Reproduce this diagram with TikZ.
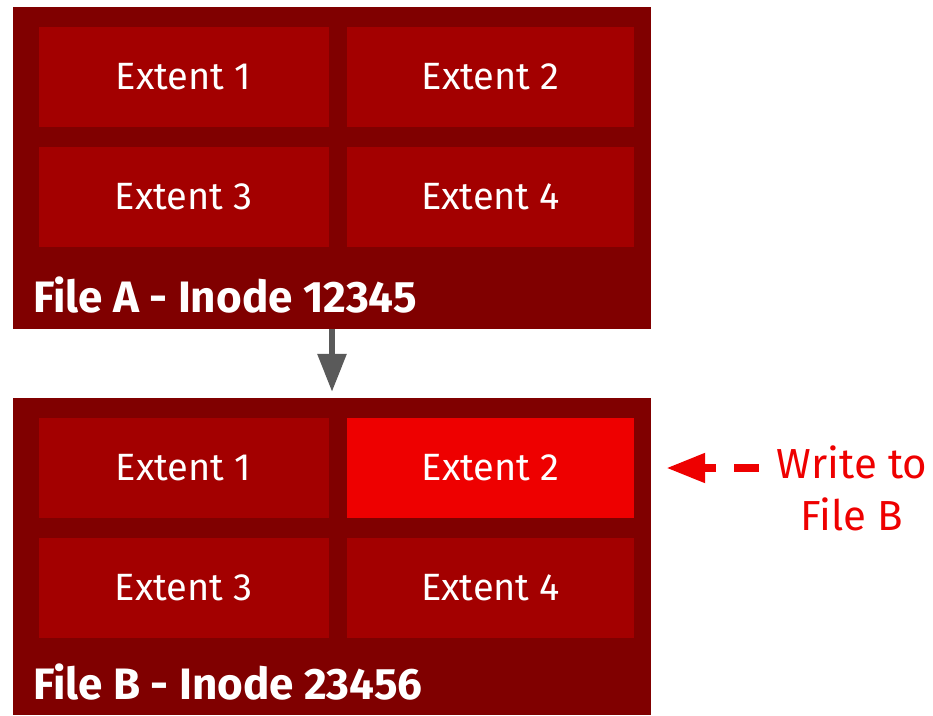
\documentclass[tikz,border=0pt]{standalone}
\usepackage{fontspec}
\setmainfont{Fira Sans}
\usetikzlibrary{arrows.meta}
\definecolor{boxdark}{HTML}{800000}
\definecolor{extred}{HTML}{A30000}
\definecolor{hotred}{HTML}{EE0000}
\definecolor{arrowgray}{HTML}{5A5A5A}
\tikzset{>=latex}
\tikzset{
  filebox/.style={fill=boxdark, inner sep=0pt, minimum width=638pt},
  extent/.style={fill=extred, text=white, inner sep=0pt, minimum width=290pt, minimum height=100pt, font=\fontsize{38}{44}\selectfont},
  filelabel/.style={text=white, anchor=west, inner sep=0pt, font=\fontsize{44}{52}\selectfont\bfseries},
}

\begin{document}
\begin{tikzpicture}[x=1pt,y=-1pt]
  \useasboundingbox (0,0) rectangle (933,715);
  % file A
  \node[filebox, minimum height=322pt] (fileA) at (332,168) {};
  \node[extent] (a1) at (183.5,77) {Extent 1};
  \node[extent, minimum width=287pt] (a2) at (490.5,77) {Extent 2};
  \node[extent] (a3) at (183.5,197) {Extent 3};
  \node[extent, minimum width=287pt] (a4) at (490.5,197) {Extent 4};
  \node[filelabel] (labA) at (33,295) {File A - Inode 12345};
  % file B
  \node[filebox, minimum height=317pt] (fileB) at (332,556.5) {};
  \node[extent] (b1) at (183.5,468) {Extent 1};
  \node[extent, minimum width=287pt, fill=hotred] (b2) at (490.5,468) {Extent 2};
  \node[extent] (b3) at (183.5,588) {Extent 3};
  \node[extent, minimum width=287pt] (b4) at (490.5,588) {Extent 4};
  \node[filelabel] (labB) at (33,682) {File B - Inode 23456};
  % copy
  \draw[arrowgray, line width=6pt, -{Triangle[length=38pt,width=28pt]}, shorten >=6pt] (fileA) -- (fileB);
  % write
  \node[text=hotred, align=center, inner sep=0pt, font=\fontsize{42}{52}\selectfont] (write) at (852,488) {Write to\\File B};
  \draw[hotred, line width=8pt, dash pattern=on 25pt off 18pt, -{Triangle[length=39pt,width=28pt]}, shorten <=18pt, shorten >=32pt] (write.west |- b2.east) -- (b2.east);
\end{tikzpicture}
\end{document}
